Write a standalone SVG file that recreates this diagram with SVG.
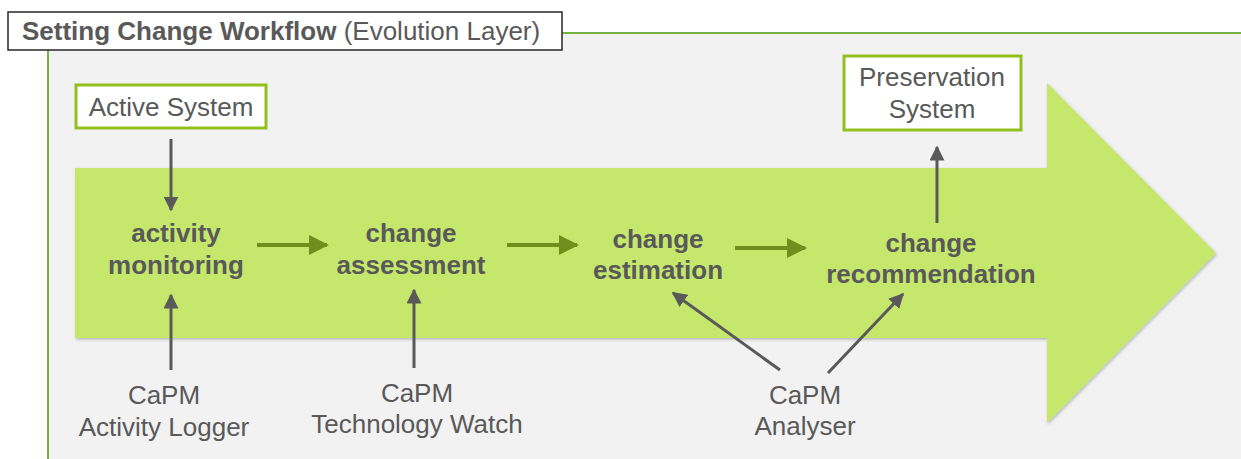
<svg xmlns="http://www.w3.org/2000/svg" width="1241" height="459" viewBox="0 0 1241 459">
<defs>
<style>
.lbl{font-family:"Liberation Sans",Arial,sans-serif;font-size:26px;fill:#595959;text-anchor:middle}
.step{font-family:"Liberation Sans",Arial,sans-serif;font-size:26px;font-weight:bold;fill:#595959;text-anchor:middle}
.box{fill:#ffffff;stroke:#92c01f;stroke-width:3}
.gray{stroke:#595959;stroke-width:3;fill:none}
.grn{stroke:#6e8f1b;stroke-width:4;fill:none}
</style>
<marker id="ag" viewBox="0 0 10 10" refX="9" refY="5" markerWidth="5" markerHeight="5" markerUnits="strokeWidth" orient="auto"><path d="M0,0 L10,5 L0,10 z" fill="#595959"/></marker>
<marker id="agr" viewBox="0 0 10 10" refX="9" refY="5" markerWidth="5" markerHeight="5" markerUnits="strokeWidth" orient="auto"><path d="M0,0 L10,5 L0,10 z" fill="#6e8f1b"/></marker>
<filter id="sh" x="-5%" y="-5%" width="110%" height="110%"><feDropShadow dx="1" dy="1.5" stdDeviation="1.5" flood-color="#000" flood-opacity="0.25"/></filter>
</defs>
<rect x="0" y="0" width="1241" height="459" fill="#ffffff"/>
<rect x="48" y="33" width="1193" height="426" fill="#f2f2f2"/>
<path d="M48,50 V459" stroke="#77b043" stroke-width="2" fill="none"/>
<path d="M562,33 H1241" stroke="#77b043" stroke-width="2" fill="none"/>
<g id="title">
<rect x="8" y="12" width="554" height="38" fill="#ffffff" stroke="#262626" stroke-width="1.5"/>
<text x="22" y="40" style="font-family:'Liberation Sans',Arial,sans-serif;font-size:26px;fill:#595959"><tspan font-weight="bold">Setting Change Workflow</tspan> (Evolution Layer)</text>
</g>
<g id="flow-arrow">
<path d="M75,168 H1047 V83 L1216,253 L1047,423 V338 H75 Z" fill="#c5e76c" filter="url(#sh)"/>
</g>
<g id="active-system">
<rect class="box" x="76" y="85" width="190" height="43"/>
<text class="lbl" x="171" y="116">Active System</text>
</g>
<g id="preservation-system">
<rect class="box" x="844" y="56" width="177" height="74"/>
<text class="lbl" x="932" y="86">Preservation</text>
<text class="lbl" x="932" y="118">System</text>
</g>
<g id="activity-monitoring">
<text class="step" x="176" y="242">activity</text>
<text class="step" x="176" y="274">monitoring</text>
</g>
<g id="change-assessment">
<text class="step" x="411" y="242">change</text>
<text class="step" x="411" y="274">assessment</text>
</g>
<g id="change-estimation">
<text class="step" x="658" y="248">change</text>
<text class="step" x="658" y="279">estimation</text>
</g>
<g id="change-recommendation">
<text class="step" x="931" y="252">change</text>
<text class="step" x="931" y="283">recommendation</text>
</g>
<g id="activity-logger">
<text class="lbl" x="164" y="404">CaPM</text>
<text class="lbl" x="164" y="436">Activity Logger</text>
</g>
<g id="technology-watch">
<text class="lbl" x="417" y="402">CaPM</text>
<text class="lbl" x="417" y="433">Technology Watch</text>
</g>
<g id="analyser">
<text class="lbl" x="805" y="404">CaPM</text>
<text class="lbl" x="805" y="435">Analyser</text>
</g>
<g id="connectors">
<line class="gray" x1="171" y1="139" x2="171" y2="210" marker-end="url(#ag)"/>
<line class="gray" x1="171" y1="370" x2="171" y2="295" marker-end="url(#ag)"/>
<line class="gray" x1="414" y1="368" x2="414" y2="290" marker-end="url(#ag)"/>
<line class="gray" x1="780" y1="370" x2="673" y2="293" marker-end="url(#ag)"/>
<line class="gray" x1="828" y1="373" x2="903" y2="294" marker-end="url(#ag)"/>
<line class="gray" x1="937" y1="223" x2="937" y2="147" marker-end="url(#ag)"/>
<line class="grn" x1="257" y1="245" x2="327" y2="245" marker-end="url(#agr)"/>
<line class="grn" x1="507" y1="245" x2="577" y2="245" marker-end="url(#agr)"/>
<line class="grn" x1="735" y1="248" x2="805" y2="248" marker-end="url(#agr)"/>
</g>
</svg>
